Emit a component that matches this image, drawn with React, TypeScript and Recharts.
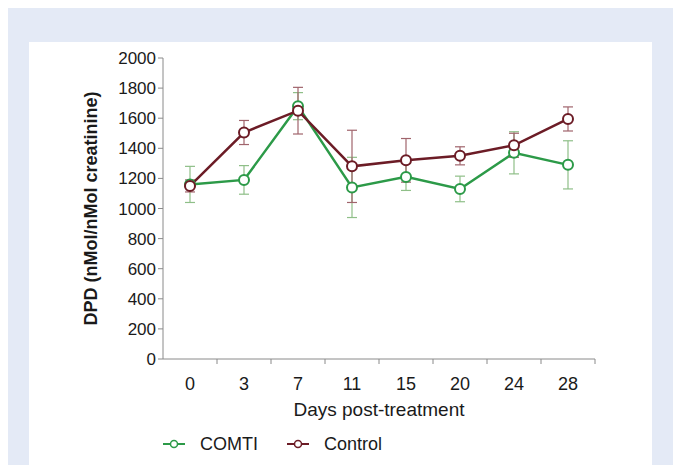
import React from "react";
import { LineChart, Line, XAxis, YAxis, ErrorBar } from "recharts";

const days = ["0", "3", "7", "11", "15", "20", "24", "28"];
const comti = [1160, 1190, 1680, 1140, 1210, 1130, 1370, 1290];
const comtiErr = [120, 95, 90, 200, 90, 85, 140, 160];
const control = [1150, 1505, 1650, 1280, 1320, 1350, 1420, 1595];
const controlErr = [40, 80, 155, 240, 145, 60, 80, 80];
const yTicks = [0, 200, 400, 600, 800, 1000, 1200, 1400, 1600, 1800, 2000];

const GREEN = "#2c9a48";
const GREEN_ERR = "#8fbf88";
const RED = "#6c1c26";
const RED_ERR = "#a0646c";
const AXIS = "#8a8a8a";
const TEXT = "#1a1a1a";
const FONT = "'Liberation Sans', Arial, sans-serif";

const W = 679;
const H = 465;
const PLOT_LEFT = 163;
const PLOT_RIGHT = 595;
const PLOT_TOP = 58;
const PLOT_BOTTOM = 359;
const HALF_STEP = (PLOT_RIGHT - PLOT_LEFT) / days.length / 2;

const data = days.map((d, i) => ({
  i,
  day: d,
  comti: comti[i],
  comtiErr: comtiErr[i],
  control: control[i],
  controlErr: controlErr[i],
}));

const series = [
  { key: "comti", name: "COMTI", color: GREEN },
  { key: "control", name: "Control", color: RED },
];

function DayTick(props: any) {
  const { x, y, payload } = props;
  const axisY = y - 18;
  return (
    <g>
      <line x1={x + HALF_STEP} x2={x + HALF_STEP} y1={axisY} y2={axisY + 5} stroke={AXIS} strokeWidth={1} />
      <text x={x} y={y} dy="0.71em" textAnchor="middle" fill={TEXT} fontSize={18} fontFamily={FONT}>
        {days[payload.value]}
      </text>
    </g>
  );
}

function LegendMarker({ color }: { color: string }) {
  return (
    <svg width={22} height={12} style={{ display: "block" }}>
      <line x1={0} x2={22} y1={6} y2={6} stroke={color} strokeWidth={2} />
      <circle cx={11} cy={6} r={3.5} fill="#fff" stroke={color} strokeWidth={1.5} />
    </svg>
  );
}

export default function App() {
  return (
    <div style={{ position: "absolute", left: 0, top: 0, width: W, height: H, background: "#fff", overflow: "hidden" }}>
      <div style={{ position: "absolute", left: 8, top: 8, width: 665, height: H - 8, background: "#e4eaf6" }} />
      <div style={{ position: "absolute", left: 29, top: 42, width: 623, height: H - 42, background: "#fff" }} />
      <div style={{ position: "absolute", left: 0, top: 0 }}>
        <LineChart
          width={W}
          height={H}
          data={data}
          margin={{ top: PLOT_TOP, right: W - PLOT_RIGHT, bottom: H - PLOT_BOTTOM - 60, left: PLOT_LEFT - 70 }}
        >
          <XAxis
            dataKey="i"
            type="number"
            domain={[-0.5, days.length - 0.5]}
            ticks={days.map((_, i) => i)}
            interval={0}
            height={60}
            tickSize={5}
            tickMargin={13}
            tickLine={false}
            axisLine={{ stroke: AXIS, strokeWidth: 1 }}
            tick={<DayTick />}
            label={{
              content: () => (
                <text x={(PLOT_LEFT + PLOT_RIGHT) / 2} y={409} textAnchor="middle" dominantBaseline="central" fill={TEXT} fontSize={19} fontFamily={FONT}>
                  Days post-treatment
                </text>
              ),
            }}
          />
          <YAxis
            type="number"
            domain={[0, 2000]}
            ticks={yTicks}
            interval={0}
            width={70}
            tickSize={5}
            axisLine={{ stroke: AXIS, strokeWidth: 1 }}
            tickLine={{ stroke: AXIS, strokeWidth: 1 }}
            tick={{ fill: TEXT, fontSize: 17, fontFamily: FONT }}
            label={{
              content: () => (
                <text
                  x={91}
                  y={(PLOT_TOP + PLOT_BOTTOM) / 2}
                  transform={`rotate(-90, 91, ${(PLOT_TOP + PLOT_BOTTOM) / 2})`}
                  textAnchor="middle"
                  dominantBaseline="central"
                  fill={TEXT}
                  fontSize={18}
                  fontWeight="bold"
                  fontFamily={FONT}
                >
                  DPD (nMol/nMol creatinine)
                </text>
              ),
            }}
          />
          <Line
            dataKey="comti"
            name="COMTI"
            stroke={GREEN}
            strokeWidth={2.5}
            dot={{ r: 5, fill: "#fff", stroke: GREEN, strokeWidth: 2 }}
            isAnimationActive={false}
          >
            <ErrorBar dataKey="comtiErr" direction="y" width={5} stroke={GREEN_ERR} strokeWidth={1.2} isAnimationActive={false} />
          </Line>
          <Line
            dataKey="control"
            name="Control"
            stroke={RED}
            strokeWidth={2.5}
            dot={{ r: 5, fill: "#fff", stroke: RED, strokeWidth: 2 }}
            isAnimationActive={false}
          >
            <ErrorBar dataKey="controlErr" direction="y" width={5} stroke={RED_ERR} strokeWidth={1.2} isAnimationActive={false} />
          </Line>
        </LineChart>
      </div>
      <div
        style={{
          position: "absolute",
          left: 163,
          top: 433,
          display: "flex",
          alignItems: "center",
          fontFamily: FONT,
          fontSize: 18,
          color: TEXT,
          lineHeight: "22px",
        }}
      >
        {series.map((s, idx) => (
          <div key={s.key} style={{ display: "flex", alignItems: "center", marginRight: idx === 0 ? 29 : 0 }}>
            <LegendMarker color={s.color} />
            <span style={{ marginLeft: 15 }}>{s.name}</span>
          </div>
        ))}
      </div>
    </div>
  );
}
